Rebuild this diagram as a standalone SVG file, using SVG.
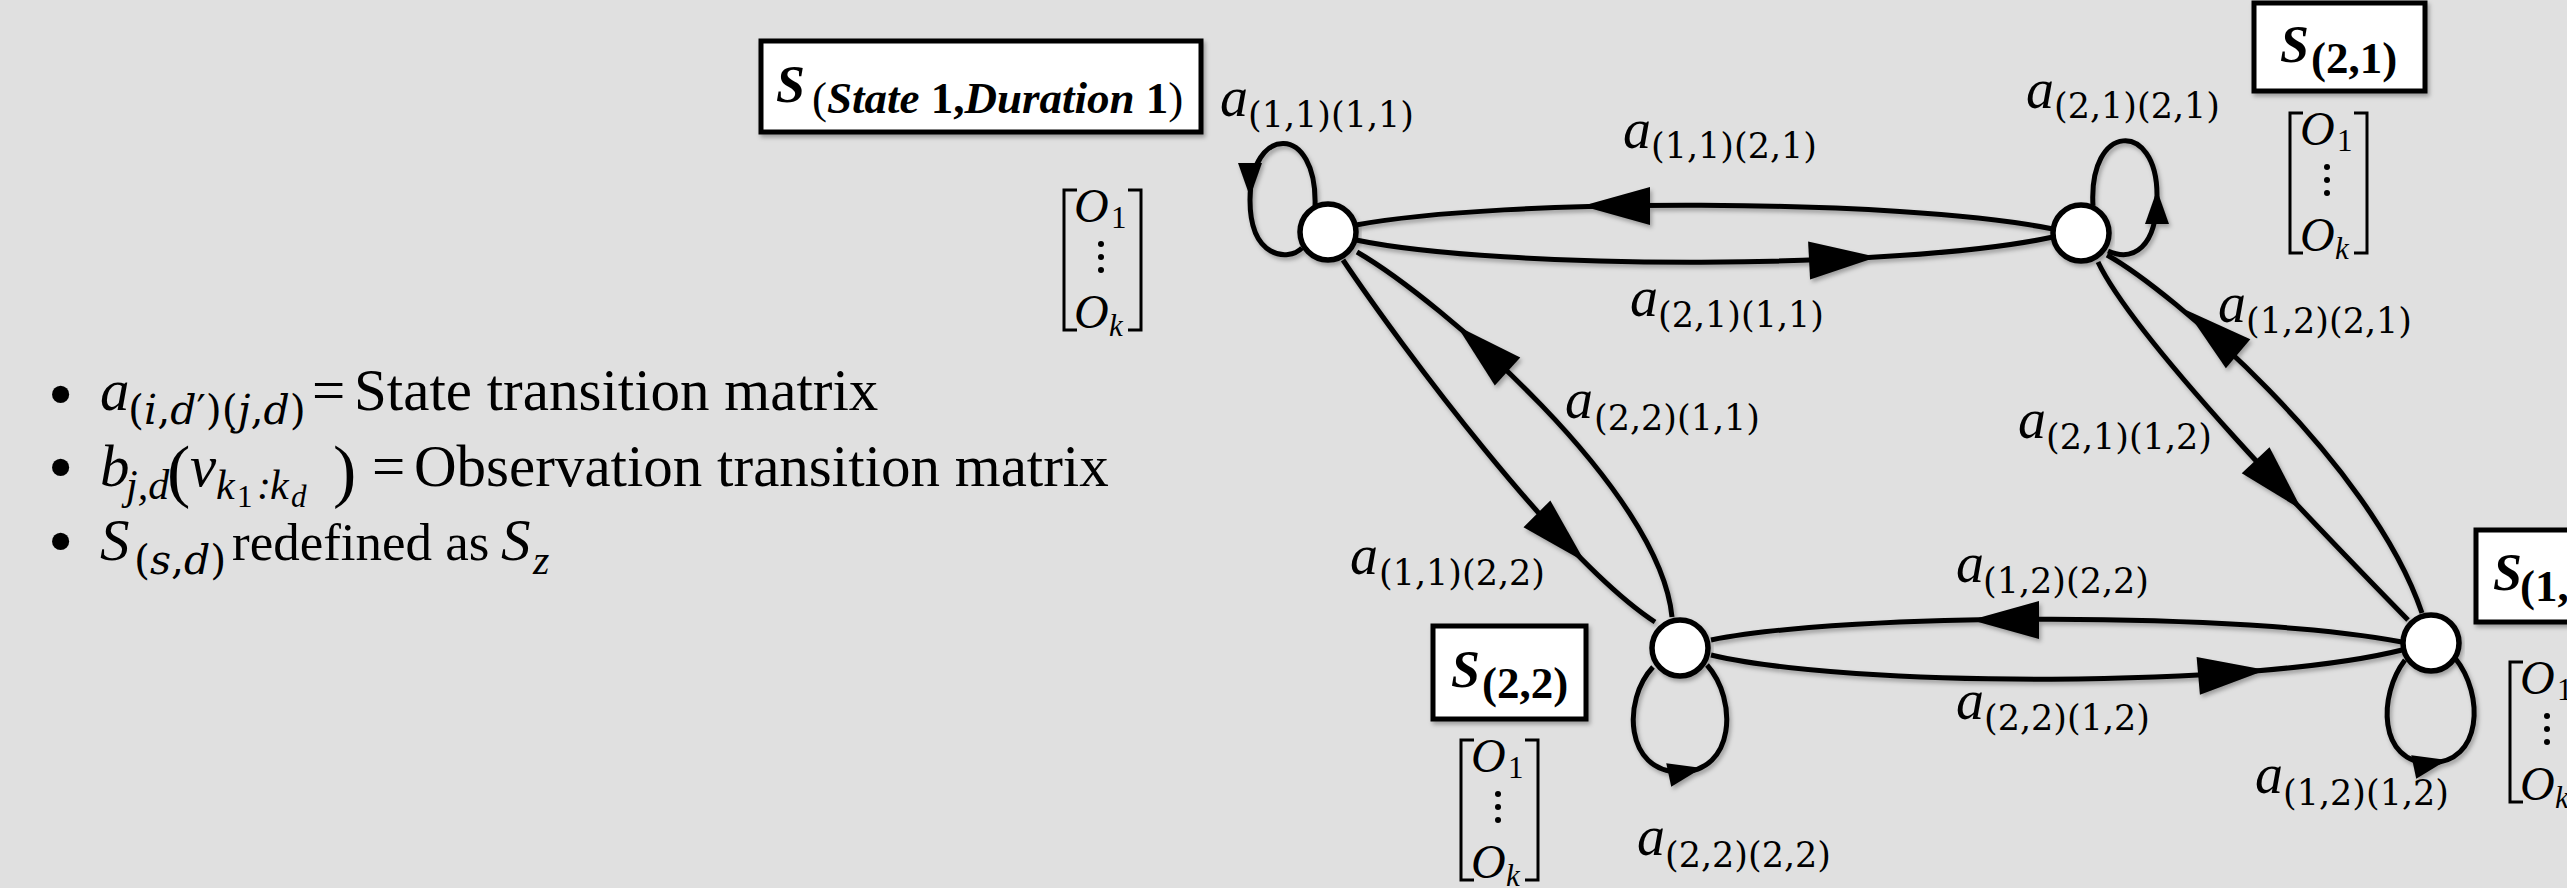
<svg xmlns="http://www.w3.org/2000/svg" width="2567" height="888" viewBox="0 0 2567 888">
<defs>
<style>
.edge{fill:none;stroke:#000;stroke-width:5}
.node{fill:#fff;stroke:#000;stroke-width:5.5}
.box{fill:#fff;stroke:#000;stroke-width:5}
.br{fill:none;stroke:#000;stroke-width:3}
.la{font-family:"Liberation Serif",serif;font-style:italic;font-size:56px}
.ls{font-family:"DejaVu Serif",serif;font-size:35px}
.bs{font-family:"Liberation Serif",serif;font-weight:bold;font-style:italic;font-size:52px}
.bsub{font-family:"Liberation Serif",serif;font-size:45px}
.mo{font-family:"Liberation Serif",serif;font-style:italic;font-size:48px}
.ms{font-family:"Liberation Serif",serif;font-size:31px}
.txt{font-family:"Liberation Serif",serif;font-size:59px}
.sb{font-family:"DejaVu Serif",serif;font-size:41px}
.si{font-family:"Liberation Serif",serif;font-style:italic;font-size:42px}
.ss{font-family:"Liberation Serif",serif;font-size:31px}
.bul{font-size:72px}
.it{font-style:italic}
.bd{font-weight:bold}
.bi{font-weight:bold;font-style:italic}
</style>
<filter id="sh" x="-10%" y="-10%" width="120%" height="130%">
<feDropShadow dx="2" dy="3" stdDeviation="2.2" flood-color="#000" flood-opacity="0.3"/>
</filter>
<path id="ah" d="M0,0 L-68,-19 L-68,19 Z"/>
<path id="as" d="M0,0 L-34,-12 L-34,12 Z"/>
</defs>
<rect x="0" y="0" width="2567" height="888" fill="#e0e0e0"/>

<g id="legend">
<text class="txt" y="410"><tspan class="bul" x="48" y="418">•</tspan><tspan x="100" y="410" class="it">a</tspan><tspan x="128" y="424" class="sb">(<tspan class="it">i</tspan>,<tspan class="it">d</tspan>′)(<tspan class="it">j</tspan>,<tspan class="it">d</tspan>)</tspan><tspan x="312" y="410">=</tspan><tspan x="354" y="410">State transition matrix</tspan></text>
<text class="txt" y="486"><tspan class="bul" x="48" y="491">•</tspan><tspan x="100" y="486" class="it">b</tspan><tspan x="126" y="499" class="si">j,d</tspan><tspan x="167" y="494" font-size="70">(</tspan><tspan x="190" y="486" class="it">v</tspan><tspan x="216" y="499" class="si">k</tspan><tspan x="237" y="507" class="ss">1</tspan><tspan x="257" y="499" class="si">:</tspan><tspan x="270" y="499" class="si">k</tspan><tspan x="291" y="507" class="ss it">d</tspan><tspan x="333" y="494" font-size="70">)</tspan><tspan x="372" y="486">=</tspan><tspan x="414" y="486">Observation transition matrix</tspan></text>
<text class="txt" y="560"><tspan class="bul" x="48" y="565">•</tspan><tspan x="100" y="560" class="it">S</tspan><tspan x="134" y="574" class="sb" font-size="37">(<tspan class="it">s</tspan>,<tspan class="it">d</tspan>)</tspan><tspan x="232" y="560" font-size="53">redefined as</tspan><tspan x="501" y="560" class="it">S</tspan><tspan x="533" y="574" class="si">z</tspan></text>
</g>

<g id="connectors" filter="url(#sh)">
<path class="edge" d="M1315,207 C1318,122 1250,125 1250,200 C1250,258 1288,262 1302,248"/>
<path class="edge" d="M2093,206 C2088,122 2157,120 2157,195 C2157,248 2133,262 2108,251"/>
<path class="edge" d="M1653,667 C1622,700 1625,772 1680,772 C1735,772 1738,700 1707,665"/>
<path class="edge" d="M2405,660 C2378,695 2378,763 2430,763 C2482,763 2485,695 2455,658"/>
<path class="edge" d="M1356,225 C1500,198 1900,198 2053,229"/>
<path class="edge" d="M1356,240 C1500,270 1900,270 2053,237"/>
<path class="edge" d="M1711,640 C1850,612 2250,612 2402,642"/>
<path class="edge" d="M1711,655 C1850,688 2250,688 2402,650"/>
<path class="edge" d="M1343,260 C1400,345 1560,560 1655,622"/>
<path class="edge" d="M1357,252 C1440,300 1660,490 1672,617"/>
<path class="edge" d="M2098,262 C2135,340 2320,530 2408,620"/>
<path class="edge" d="M2107,255 C2170,290 2370,460 2422,613"/>
<use href="#as" transform="translate(1250,197) rotate(90)"/>
<use href="#as" transform="translate(2157,190) rotate(-90)"/>
<use href="#as" transform="translate(1702,768) rotate(-12)"/>
<use href="#as" transform="translate(2447,760) rotate(-12)"/>
<use href="#ah" transform="translate(1582,206) rotate(180)"/>
<use href="#ah" transform="translate(1877,257) rotate(-3)"/>
<use href="#ah" transform="translate(1971,620) rotate(180)"/>
<use href="#ah" transform="translate(2266,670) rotate(-5)"/>
<use href="#ah" transform="translate(1585,562) rotate(45)"/>
<use href="#ah" transform="translate(1457,326) rotate(-138)"/>
<use href="#ah" transform="translate(2302,510) rotate(47)"/>
<use href="#ah" transform="translate(2186,310) rotate(-140)"/>
</g>

<g id="edge-labels">
<text x="1220" y="116"><tspan class="la">a</tspan><tspan class="ls" x="1248" y="127">(1,1)(1,1)</tspan></text>
<text x="1623" y="148"><tspan class="la">a</tspan><tspan class="ls" x="1651" y="158">(1,1)(2,1)</tspan></text>
<text x="1630" y="316"><tspan class="la">a</tspan><tspan class="ls" x="1658" y="327">(2,1)(1,1)</tspan></text>
<text x="2026" y="108"><tspan class="la">a</tspan><tspan class="ls" x="2054" y="118">(2,1)(2,1)</tspan></text>
<text x="2218" y="322"><tspan class="la">a</tspan><tspan class="ls" x="2246" y="333">(1,2)(2,1)</tspan></text>
<text x="1565" y="418"><tspan class="la">a</tspan><tspan class="ls" x="1594" y="430">(2,2)(1,1)</tspan></text>
<text x="2018" y="438"><tspan class="la">a</tspan><tspan class="ls" x="2046" y="449">(2,1)(1,2)</tspan></text>
<text x="1350" y="574"><tspan class="la">a</tspan><tspan class="ls" x="1379" y="585">(1,1)(2,2)</tspan></text>
<text x="1956" y="582"><tspan class="la">a</tspan><tspan class="ls" x="1983" y="593">(1,2)(2,2)</tspan></text>
<text x="1956" y="719"><tspan class="la">a</tspan><tspan class="ls" x="1984" y="730">(2,2)(1,2)</tspan></text>
<text x="1637" y="855"><tspan class="la">a</tspan><tspan class="ls" x="1665" y="867">(2,2)(2,2)</tspan></text>
<text x="2255" y="793"><tspan class="la">a</tspan><tspan class="ls" x="2283" y="805">(1,2)(1,2)</tspan></text>
</g>

<g id="node-1-1">
<circle class="node" cx="1328" cy="232" r="28" filter="url(#sh)"/>
<rect class="box" x="761" y="41" width="440" height="91" filter="url(#sh)"/>
<text x="776" y="102"><tspan class="bs">S</tspan><tspan class="bsub" x="812" y="113">(<tspan class="bi">State</tspan> <tspan class="bd">1,</tspan><tspan class="bi">Duration</tspan> <tspan class="bd">1</tspan>)</tspan></text>
<g transform="translate(1061,190)">
<path class="br" d="M16,0 H3 V140 H16 M67,0 H80 V140 H67"/>
<text class="mo" x="13" y="32">O<tspan class="ms" font-style="normal" x="50" y="38">1</tspan></text>
<circle cx="40" cy="54" r="3"/><circle cx="40" cy="67" r="3"/><circle cx="40" cy="80" r="3"/>
<text class="mo" x="13" y="138">O<tspan class="ms" x="48" y="146">k</tspan></text>
</g>
</g>

<g id="node-2-1">
<circle class="node" cx="2081" cy="233" r="28" filter="url(#sh)"/>
<rect class="box" x="2254" y="3" width="171" height="88" filter="url(#sh)"/>
<text x="2280" y="62"><tspan class="bs">S</tspan><tspan class="bsub bd" x="2311" y="73">(2,1)</tspan></text>
<g transform="translate(2287,113)">
<path class="br" d="M16,0 H3 V140 H16 M67,0 H80 V140 H67"/>
<text class="mo" x="13" y="32">O<tspan class="ms" font-style="normal" x="50" y="38">1</tspan></text>
<circle cx="40" cy="54" r="3"/><circle cx="40" cy="67" r="3"/><circle cx="40" cy="80" r="3"/>
<text class="mo" x="13" y="138">O<tspan class="ms" x="48" y="146">k</tspan></text>
</g>
</g>

<g id="node-2-2">
<circle class="node" cx="1680" cy="648" r="28" filter="url(#sh)"/>
<rect class="box" x="1433" y="626" width="153" height="93" filter="url(#sh)"/>
<text x="1451" y="687"><tspan class="bs">S</tspan><tspan class="bsub bd" x="1482" y="698">(2,2)</tspan></text>
<g transform="translate(1458,740)">
<path class="br" d="M16,0 H3 V140 H16 M67,0 H80 V140 H67"/>
<text class="mo" x="13" y="32">O<tspan class="ms" font-style="normal" x="50" y="38">1</tspan></text>
<circle cx="40" cy="54" r="3"/><circle cx="40" cy="67" r="3"/><circle cx="40" cy="80" r="3"/>
<text class="mo" x="13" y="138">O<tspan class="ms" x="48" y="146">k</tspan></text>
</g>
</g>

<g id="node-1-2">
<circle class="node" cx="2431" cy="643" r="28" filter="url(#sh)"/>
<rect class="box" x="2476" y="530" width="130" height="92" filter="url(#sh)"/>
<text x="2493" y="590"><tspan class="bs">S</tspan><tspan class="bsub bd" x="2520" y="601">(1,2)</tspan></text>
<g transform="translate(2507,662)">
<path class="br" d="M16,0 H3 V140 H16 M67,0 H80 V140 H67"/>
<text class="mo" x="13" y="32">O<tspan class="ms" font-style="normal" x="50" y="38">1</tspan></text>
<circle cx="40" cy="54" r="3"/><circle cx="40" cy="67" r="3"/><circle cx="40" cy="80" r="3"/>
<text class="mo" x="13" y="138">O<tspan class="ms" x="48" y="146">k</tspan></text>
</g>
</g>
</svg>
